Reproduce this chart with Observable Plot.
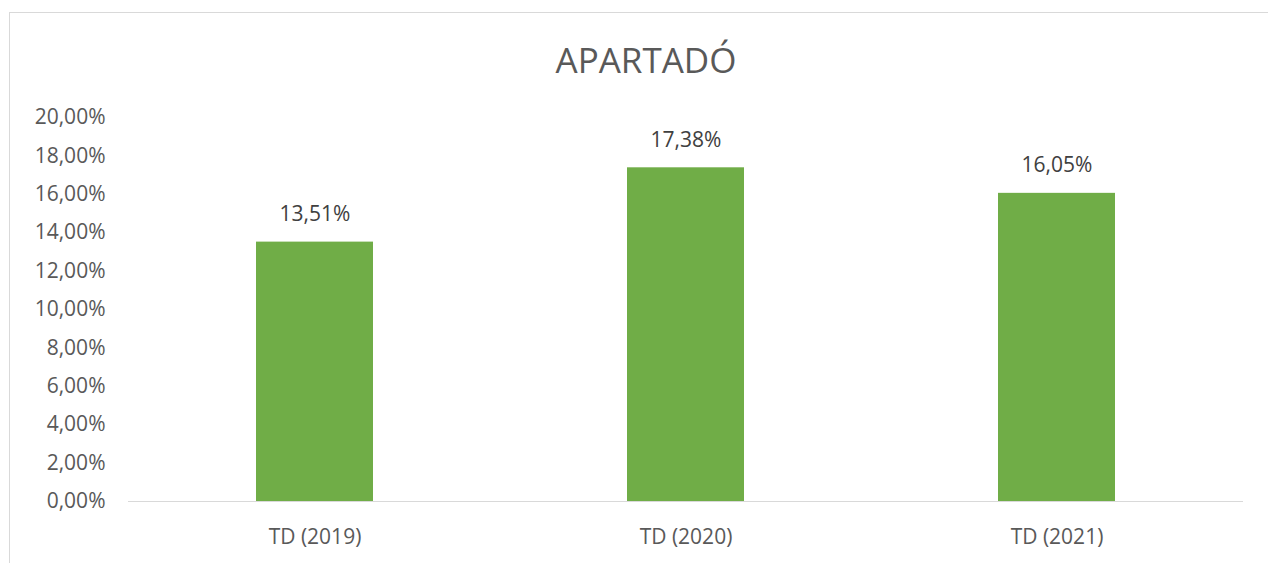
<!DOCTYPE html>
<html>
<head>
<meta charset="utf-8">
<script src="https://cdn.jsdelivr.net/npm/d3@7"></script>
<script src="https://cdn.jsdelivr.net/npm/@observablehq/plot@0.6"></script>
<style>
  html, body { margin: 0; padding: 0; background: #fff; width: 1268px; height: 563px; overflow: hidden; }
  #frame { position: absolute; left: 9px; top: 12px; width: 1300px; height: 600px; border: 1px solid #d9d9d9; box-sizing: border-box; }
  #title { position: absolute; left: 12px; top: 12px; width: 1268px; height: 80px; text-align: center; font-family: "Open Sans", sans-serif; font-size: 35px; color: #595959; line-height: 96px; }
  #chart { position: absolute; left: 0; top: 92px; }
</style>
</head>
<body>
<div id="frame"></div>
<div id="title">APARTADÓ</div>
<div id="chart"></div>
<script>
const categories = ["TD (2019)", "TD (2020)", "TD (2021)"];
const values = [0.1351, 0.1738, 0.1605];
const yTicks = [0, 0.02, 0.04, 0.06, 0.08, 0.10, 0.12, 0.14, 0.16, 0.18, 0.20];

const data = categories.map((c, i) => ({cat: c, v: values[i]}));
const fmt = d => (d * 100).toFixed(2).replace(".", ",") + "%";

const chart = Plot.plot({
  width: 1268,
  height: 471,
  marginTop: 25,
  marginBottom: 62,
  marginLeft: 128,
  marginRight: 25,
  style: {fontFamily: "Open Sans, sans-serif", fontSize: "21px", color: "#595959", background: "transparent"},
  x: {domain: categories, paddingInner: 0.685, paddingOuter: 0.3425, label: null, tickSize: 0, tickPadding: 28},
  y: {domain: [0, 0.2], ticks: yTicks, tickFormat: fmt, label: null, tickSize: 0, tickPadding: 23},
  marks: [
    Plot.barY(data, {x: "cat", y: "v", fill: "#70ad47"}),
    Plot.ruleY([0], {stroke: "#d9d9d9", strokeWidth: 1}),
    Plot.text(data, {x: "cat", y: "v", text: d => fmt(d.v), dy: -28, fill: "#404040", fontSize: 21})
  ]
});
document.getElementById("chart").appendChild(chart);
</script>
</body>
</html>
